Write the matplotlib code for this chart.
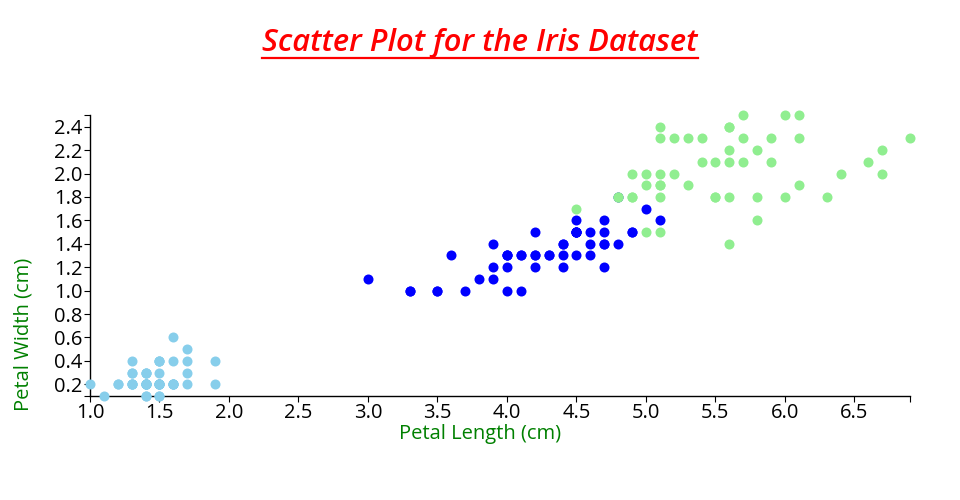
import matplotlib
matplotlib.use("Agg")
import matplotlib.pyplot as plt
from matplotlib.lines import Line2D

plt.rcParams['font.family'] = ['Open Sans', 'DejaVu Sans']

# Iris 데이터 (petal length / petal width)
setosa_len = [1.4, 1.4, 1.3, 1.5, 1.4, 1.7, 1.4, 1.5, 1.4, 1.5, 1.5, 1.6, 1.4, 1.1, 1.2, 1.5, 1.3, 1.4, 1.7, 1.5,
              1.7, 1.5, 1.0, 1.7, 1.9, 1.6, 1.6, 1.5, 1.4, 1.6, 1.6, 1.5, 1.5, 1.4, 1.5, 1.2, 1.3, 1.4, 1.3, 1.5,
              1.3, 1.3, 1.3, 1.6, 1.9, 1.4, 1.6, 1.4, 1.5, 1.4]
setosa_wid = [0.2, 0.2, 0.2, 0.2, 0.2, 0.4, 0.3, 0.2, 0.2, 0.1, 0.2, 0.2, 0.1, 0.1, 0.2, 0.4, 0.4, 0.3, 0.3, 0.3,
              0.2, 0.4, 0.2, 0.5, 0.2, 0.2, 0.4, 0.2, 0.2, 0.2, 0.2, 0.4, 0.1, 0.2, 0.2, 0.2, 0.2, 0.1, 0.2, 0.2,
              0.3, 0.3, 0.2, 0.6, 0.4, 0.3, 0.2, 0.2, 0.2, 0.2]

versicolor_len = [4.7, 4.5, 4.9, 4.0, 4.6, 4.5, 4.7, 3.3, 4.6, 3.9, 3.5, 4.2, 4.0, 4.7, 3.6, 4.4, 4.5, 4.1, 4.5, 3.9,
                  4.8, 4.0, 4.9, 4.7, 4.3, 4.4, 4.8, 5.0, 4.5, 3.5, 3.8, 3.7, 3.9, 5.1, 4.5, 4.5, 4.7, 4.4, 4.1, 4.0,
                  4.4, 4.6, 4.0, 3.3, 4.2, 4.2, 4.2, 4.3, 3.0, 4.1]
versicolor_wid = [1.4, 1.5, 1.5, 1.3, 1.5, 1.3, 1.6, 1.0, 1.3, 1.4, 1.0, 1.5, 1.0, 1.4, 1.3, 1.4, 1.5, 1.0, 1.5, 1.1,
                  1.8, 1.3, 1.5, 1.2, 1.3, 1.4, 1.4, 1.7, 1.5, 1.0, 1.1, 1.0, 1.2, 1.6, 1.5, 1.6, 1.5, 1.3, 1.3, 1.3,
                  1.2, 1.4, 1.2, 1.0, 1.3, 1.2, 1.3, 1.3, 1.1, 1.3]

virginica_len = [6.0, 5.1, 5.9, 5.6, 5.8, 6.6, 4.5, 6.3, 5.8, 6.1, 5.1, 5.3, 5.5, 5.0, 5.1, 5.3, 5.5, 6.7, 6.9, 5.0,
                 5.7, 4.9, 6.7, 4.9, 5.7, 6.0, 4.8, 4.9, 5.6, 5.8, 6.1, 6.4, 5.6, 5.1, 5.6, 6.1, 5.6, 5.5, 4.8, 5.4,
                 5.6, 5.1, 5.1, 5.9, 5.7, 5.2, 5.0, 5.2, 5.4, 5.1]
virginica_wid = [2.5, 1.9, 2.1, 1.8, 2.2, 2.1, 1.7, 1.8, 1.8, 2.5, 2.0, 1.9, 2.1, 2.0, 2.4, 2.3, 1.8, 2.2, 2.3, 1.5,
                 2.3, 2.0, 2.0, 1.8, 2.1, 1.8, 1.8, 1.8, 2.1, 1.6, 1.9, 2.0, 2.2, 1.5, 1.4, 2.3, 2.4, 1.8, 1.8, 2.1,
                 2.4, 2.3, 1.9, 2.3, 2.5, 2.3, 1.9, 2.0, 2.3, 1.8]

x_ticks = [1.0, 1.5, 2.0, 2.5, 3.0, 3.5, 4.0, 4.5, 5.0, 5.5, 6.0, 6.5]
y_ticks = [0.2, 0.4, 0.6, 0.8, 1.0, 1.2, 1.4, 1.6, 1.8, 2.0, 2.2, 2.4]

fig = plt.figure(figsize=(9.6, 5.0), dpi=100)
ax = fig.add_axes([90 / 960, 104 / 500, 820 / 960, 281 / 500])

# 품종별 산점도
ax.scatter(setosa_len, setosa_wid, s=52, color='skyblue', linewidths=0, clip_on=False, zorder=3)
ax.scatter(versicolor_len, versicolor_wid, s=52, color='blue', linewidths=0, clip_on=False, zorder=3)
ax.scatter(virginica_len, virginica_wid, s=52, color='lightgreen', linewidths=0, clip_on=False, zorder=3)

ax.set_xlim(1.0, 6.9)
ax.set_ylim(0.1, 2.5)
ax.set_xticks(x_ticks)
ax.set_yticks(y_ticks)
ax.set_xticklabels([f'{v:.1f}' for v in x_ticks])
ax.set_yticklabels([f'{v:.1f}' for v in y_ticks])
# 축 끝의 바깥 눈금
ax.set_xticks([6.9], minor=True)
ax.set_yticks([0.1, 2.5], minor=True)

for side in ['top', 'right']:
    ax.spines[side].set_visible(False)
for side in ['left', 'bottom']:
    ax.spines[side].set_linewidth(1.0)
    ax.spines[side].set_color('black')

ax.tick_params(which='both', direction='out', length=4.3, width=0.8, color='black')
ax.tick_params(axis='y', which='major', labelsize=14.5, pad=1.0, labelcolor='black')
ax.tick_params(axis='x', which='major', labelsize=14.5, pad=0.5, labelcolor='black')

fig.text(480 / 960, 1 - 434 / 500, 'Petal Length (cm)', color='green', fontsize=14.5,
         ha='center', va='center')
fig.text(24 / 960, 1 - 334 / 500, 'Petal Width (cm)', color='green', fontsize=14.5,
         ha='center', va='center', rotation=90)

title = fig.text(480 / 960, 1 - 43 / 500, 'Scatter Plot for the Iris Dataset', color='red',
                 fontsize=22.2, fontweight='semibold', fontstyle='italic', ha='center', va='center')

# 제목 밑줄
fig.canvas.draw()
bb = title.get_window_extent().transformed(fig.transFigure.inverted())
y_line = 1 - 57.5 / 500
fig.add_artist(Line2D([bb.x0, bb.x1], [y_line, y_line], transform=fig.transFigure,
                      color='red', linewidth=1.6))

fig.savefig('out.png', dpi=100)
